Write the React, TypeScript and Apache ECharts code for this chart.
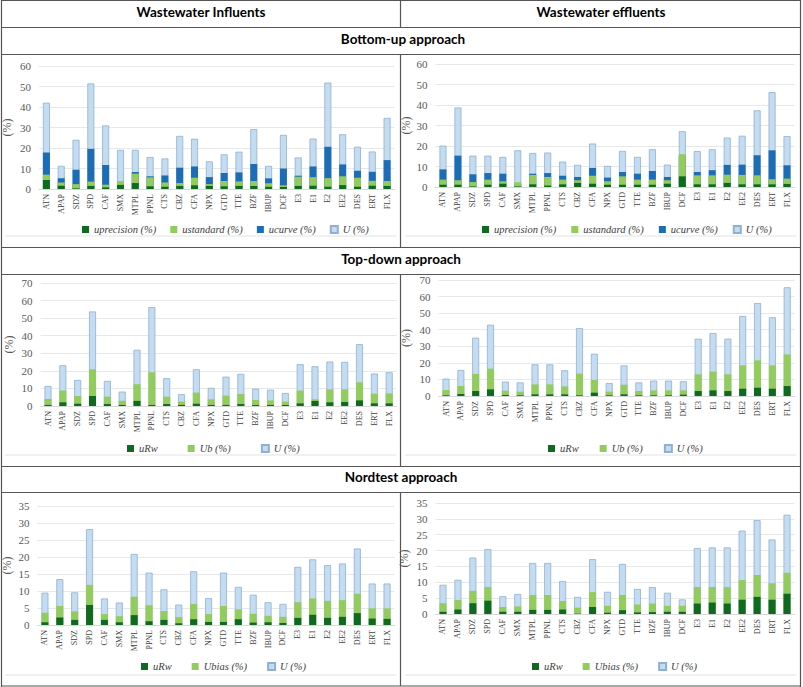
import React, { useEffect, useRef } from 'react';
import * as echarts from 'echarts';

const categories = ['ATN', 'APAP', 'SDZ', 'SPD', 'CAF', 'SMX', 'MTPL', 'PPNL', 'CTS', 'CBZ', 'CFA', 'NPX', 'GTD', 'TTE', 'BZF', 'IBUP', 'DCF', 'E3', 'E1', 'E2', 'EE2', 'DES', 'ERT', 'FLX'];

// Bottom-up approach, influents
const buInfU = [42.1, 11.3, 24.0, 51.5, 31.0, 19.1, 19.1, 15.6, 14.9, 25.9, 24.5, 13.5, 16.9, 18.2, 29.2, 11.3, 26.4, 15.4, 24.6, 51.9, 26.7, 20.6, 18.3, 34.7];
const buInfCurve = [17.8, 5.3, 9.4, 19.6, 11.7, 3.0, 8.3, 6.2, 6.6, 10.4, 11.0, 5.8, 7.8, 8.1, 12.2, 5.2, 10.0, 6.5, 11.0, 20.6, 12.0, 8.9, 8.4, 14.1];
const buInfStandard = [7.0, 3.2, 2.4, 3.6, 2.1, 3.9, 7.5, 5.7, 3.2, 2.9, 5.5, 2.4, 3.9, 3.7, 3.9, 2.8, 1.8, 6.0, 5.8, 5.3, 6.2, 5.5, 4.0, 3.9];
const buInfPrecision = [4.4, 1.6, 0.3, 1.5, 0.8, 2.0, 2.9, 1.3, 1.1, 1.5, 1.8, 1.5, 1.3, 1.5, 1.5, 1.1, 1.0, 1.5, 1.6, 1.1, 1.9, 1.1, 1.6, 1.5];

// Bottom-up approach, effluents
const buEffU = [20.2, 38.8, 15.3, 15.3, 14.7, 17.9, 16.6, 16.8, 12.4, 10.8, 21.2, 10.3, 17.6, 14.7, 18.4, 10.9, 27.2, 17.5, 18.4, 24.1, 25.0, 37.4, 46.3, 24.8];
const buEffCurve = [8.6, 15.3, 6.2, 6.8, 6.5, 1.5, 6.5, 6.8, 5.5, 4.9, 9.3, 4.6, 7.3, 6.5, 7.8, 4.9, 15.0, 7.3, 8.2, 10.8, 10.9, 15.5, 17.9, 10.6];
const buEffStandard = [3.6, 3.3, 2.4, 3.6, 2.8, 2.3, 5.9, 4.9, 3.6, 3.3, 5.5, 2.8, 5.2, 3.6, 3.6, 3.3, 16.0, 5.7, 5.7, 6.0, 5.9, 5.7, 3.8, 4.1];
const buEffPrecision = [1.1, 1.1, 0.3, 1.1, 1.6, 0.3, 1.3, 0.7, 1.3, 2.0, 1.6, 1.1, 1.1, 1.1, 1.1, 1.6, 5.2, 1.3, 1.3, 2.0, 1.3, 1.3, 1.3, 1.5];

// Top-down approach, influents
const tdInfU = [11.4, 23.2, 14.8, 53.8, 14.3, 8.2, 32.0, 56.3, 15.8, 6.7, 20.9, 10.3, 16.7, 18.3, 9.9, 9.3, 7.4, 23.8, 22.6, 25.3, 25.1, 35.2, 18.5, 19.2];
const tdInfUb = [4.0, 8.8, 5.7, 20.9, 5.3, 3.0, 12.4, 19.2, 5.3, 2.5, 7.6, 3.8, 5.9, 6.8, 3.4, 3.2, 2.5, 8.8, 3.8, 9.5, 9.5, 13.5, 7.0, 7.2];
const tdInfURw = [0.6, 2.1, 1.3, 5.7, 1.1, 0.6, 2.9, 0.6, 1.1, 0.6, 1.3, 0.6, 0.6, 1.1, 0.6, 0.6, 0.6, 1.5, 2.9, 2.1, 2.3, 3.2, 1.5, 1.5];

// Top-down approach, effluents
const tdEffU = [10.5, 15.7, 35.2, 43.0, 8.7, 8.2, 19.1, 19.1, 15.5, 41.0, 25.5, 7.8, 18.5, 8.2, 9.3, 9.3, 8.9, 34.6, 38.0, 34.6, 48.3, 56.1, 47.5, 65.6];
const tdEffUb = [3.6, 6.0, 13.3, 16.5, 3.2, 2.6, 7.0, 7.0, 5.8, 13.5, 9.7, 2.6, 6.8, 3.0, 3.4, 3.4, 3.4, 13.1, 14.7, 13.1, 18.5, 21.5, 18.5, 25.1];
const tdEffURw = [0.4, 1.2, 3.0, 4.0, 0.6, 0.4, 1.0, 1.0, 1.0, 0.4, 2.0, 0.4, 1.0, 0.4, 0.4, 0.4, 0.8, 3.0, 3.4, 3.0, 4.4, 5.0, 4.4, 6.0];

// Nordtest approach, influents
const ntInfU = [9.5, 13.5, 9.6, 28.2, 7.8, 6.6, 20.9, 15.4, 10.5, 6.0, 15.8, 7.9, 15.4, 11.2, 8.9, 6.7, 6.2, 17.1, 19.3, 17.6, 18.1, 22.5, 12.2, 12.2];
const ntInfUbias = [3.6, 5.6, 4.0, 11.8, 3.2, 2.6, 8.3, 5.8, 4.1, 2.3, 6.2, 3.2, 5.6, 4.6, 3.3, 2.7, 2.4, 6.7, 7.8, 7.1, 7.3, 9.2, 4.9, 4.9];
const ntInfURw = [0.8, 2.2, 1.5, 5.9, 1.5, 0.8, 2.9, 1.1, 1.5, 0.5, 1.7, 0.9, 0.9, 1.7, 0.7, 0.8, 0.6, 2.1, 3.0, 2.1, 2.4, 3.5, 1.9, 1.8];

// Nordtest approach, effluents
const ntEffU = [9.2, 10.8, 17.8, 20.5, 5.6, 6.3, 16.1, 16.1, 10.4, 5.4, 17.3, 7.0, 15.8, 7.9, 8.5, 6.7, 4.6, 20.8, 21.0, 21.0, 26.3, 29.6, 23.5, 31.3];
const ntEffUbias = [3.4, 4.4, 7.3, 8.5, 2.2, 2.4, 6.0, 6.0, 4.1, 2.0, 6.9, 2.6, 6.0, 3.0, 3.3, 2.6, 2.6, 8.5, 8.5, 8.5, 10.7, 12.3, 9.7, 13.0];
const ntEffURw = [0.7, 1.4, 3.4, 4.2, 0.7, 0.7, 1.3, 1.3, 1.4, 0.1, 2.2, 0.4, 1.2, 0.5, 0.6, 0.7, 0.7, 3.3, 3.6, 3.3, 4.5, 5.4, 4.5, 6.4];

const headers = ['Wastewater Influents', 'Wastewater effluents'];
const approaches = ['Bottom-up approach', 'Top-down approach', 'Nordtest approach'];
const legendBU = ['uprecision (%)', 'ustandard (%)', 'ucurve (%)', 'U (%)'];
const legendTD = ['uRw', 'Ub (%)', 'U (%)'];
const legendNT = ['uRw', 'Ubias (%)', 'U (%)'];

const C_DG = '#0d6a1e';
const C_LG = '#92cc5c';
const C_BL = '#1c6db5';
const C_LB = '#c4dcf1';
const C_LB_BORDER = '#8fb0d0';
const SERIF = '"Liberation Serif", "DejaVu Serif", serif';
const SANS = 'Lato, "Open Sans", sans-serif';

const colorFor: Record<string, string> = {
  'uprecision (%)': C_DG,
  'ustandard (%)': C_LG,
  'ucurve (%)': C_BL,
  'U (%)': C_LB,
  uRw: C_DG,
  'Ub (%)': C_LG,
  'Ubias (%)': C_LG,
};

export default function App() {
  const ref = useRef<HTMLDivElement>(null);
  useEffect(() => {
    document.body.style.margin = '0';
    if (!ref.current) return;
    const chart = echarts.init(ref.current, undefined, { renderer: 'svg' });

    const grids = [
      { left: 36.5, top: 66, width: 358, height: 123 },
      { left: 435.5, top: 64, width: 359, height: 123 },
      { left: 40.6, top: 283, width: 356, height: 123 },
      { left: 438.6, top: 280, width: 356, height: 116 },
      { left: 36.5, top: 506, width: 358, height: 119 },
      { left: 435.5, top: 503, width: 359, height: 111 },
    ];
    const yMax = [60, 60, 70, 70, 35, 35];
    const yInt = [10, 10, 10, 10, 5, 5];
    const nameGaps = [26, 23.5, 26, 27, 24.5, 25.5];

    // back-to-front per chart
    const chartSeries: { name: string; data: number[] }[][] = [
      [
        { name: 'U (%)', data: buInfU },
        { name: 'ucurve (%)', data: buInfCurve },
        { name: 'ustandard (%)', data: buInfStandard },
        { name: 'uprecision (%)', data: buInfPrecision },
      ],
      [
        { name: 'U (%)', data: buEffU },
        { name: 'ucurve (%)', data: buEffCurve },
        { name: 'ustandard (%)', data: buEffStandard },
        { name: 'uprecision (%)', data: buEffPrecision },
      ],
      [
        { name: 'U (%)', data: tdInfU },
        { name: 'Ub (%)', data: tdInfUb },
        { name: 'uRw', data: tdInfURw },
      ],
      [
        { name: 'U (%)', data: tdEffU },
        { name: 'Ub (%)', data: tdEffUb },
        { name: 'uRw', data: tdEffURw },
      ],
      [
        { name: 'U (%)', data: ntInfU },
        { name: 'Ubias (%)', data: ntInfUbias },
        { name: 'uRw', data: ntInfURw },
      ],
      [
        { name: 'U (%)', data: ntEffU },
        { name: 'Ubias (%)', data: ntEffUbias },
        { name: 'uRw', data: ntEffURw },
      ],
    ];

    const series: any[] = [];
    chartSeries.forEach((list, gi) => {
      list.forEach((s) => {
        const isU = s.name === 'U (%)';
        series.push({
          type: 'bar',
          name: s.name,
          data: s.data,
          xAxisIndex: gi,
          yAxisIndex: gi,
          barWidth: 7,
          barGap: '-100%',
          itemStyle: {
            color: colorFor[s.name],
            borderColor: isU ? C_LB_BORDER : colorFor[s.name],
            borderWidth: isU ? 0.8 : 0,
          },
        });
      });
    });

    const legendBase = {
      icon: 'rect',
      itemWidth: 7,
      itemHeight: 7,
      orient: 'horizontal',
      textStyle: { fontFamily: SERIF, fontStyle: 'italic', fontSize: 10.5, color: '#404040' },
    };
    const legends = [
      { ...legendBase, data: legendBU, left: 77, top: 219, itemGap: 14 },
      { ...legendBase, data: legendBU, left: 477, top: 219, itemGap: 15 },
      { ...legendBase, data: legendTD, left: 122, top: 438, itemGap: 30 },
      { ...legendBase, data: legendTD, left: 543, top: 438, itemGap: 21 },
      { ...legendBase, data: legendNT, left: 136, top: 656, itemGap: 20 },
      { ...legendBase, data: legendNT, left: 527, top: 656, itemGap: 20 },
    ];

    const lineColor = '#555555';
    const hLines = [0.5, 27.5, 54.5, 247.5, 274.5, 466.5, 492.5, 686];
    const graphics: any[] = [];
    hLines.forEach((y) => {
      graphics.push({ type: 'line', shape: { x1: 1, y1: y, x2: 801, y2: y }, style: { stroke: lineColor, lineWidth: 1.2 }, silent: true });
    });
    [1.5, 800.5].forEach((x) => {
      graphics.push({ type: 'line', shape: { x1: x, y1: 0, x2: x, y2: 687 }, style: { stroke: lineColor, lineWidth: 1.2 }, silent: true });
    });
    [[0, 27.5], [54.5, 247.5], [274.5, 466.5], [492.5, 686]].forEach(([a, b]) => {
      graphics.push({ type: 'line', shape: { x1: 400.5, y1: a, x2: 400.5, y2: b }, style: { stroke: lineColor, lineWidth: 1.2 }, silent: true });
    });
    // faint chart-image borders
    [236, 455, 675].forEach((y) => {
      graphics.push({ type: 'line', shape: { x1: 5, y1: y, x2: 396, y2: y }, style: { stroke: '#e2e2e2', lineWidth: 1 }, silent: true });
      graphics.push({ type: 'line', shape: { x1: 405, y1: y, x2: 796, y2: y }, style: { stroke: '#e2e2e2', lineWidth: 1 }, silent: true });
    });
    const headStyle = { fill: '#000', fontFamily: SANS, fontWeight: 'bold', fontSize: 13.5, align: 'center', verticalAlign: 'middle' };
    graphics.push({ type: 'text', x: 201, y: 12, style: { ...headStyle, text: headers[0] } });
    graphics.push({ type: 'text', x: 601, y: 12, style: { ...headStyle, text: headers[1] } });
    graphics.push({ type: 'text', x: 403, y: 39, style: { ...headStyle, text: approaches[0] } });
    graphics.push({ type: 'text', x: 401, y: 259, style: { ...headStyle, text: approaches[1] } });
    graphics.push({ type: 'text', x: 401, y: 477, style: { ...headStyle, text: approaches[2] } });

    chart.setOption({
      animation: false,
      backgroundColor: '#ffffff',
      grid: grids.map((g) => ({ ...g, containLabel: false })),
      legend: legends,
      xAxis: grids.map((_, i) => ({
        type: 'category',
        gridIndex: i,
        data: categories,
        axisTick: { show: false },
        axisLine: { lineStyle: { color: '#d9d9d9' } },
        axisLabel: { rotate: 90, interval: 0, fontFamily: SERIF, fontSize: 8, color: '#404040', margin: 5 },
      })),
      yAxis: grids.map((_, i) => ({
        type: 'value',
        gridIndex: i,
        min: 0,
        max: yMax[i],
        interval: yInt[i],
        name: '(%)',
        nameLocation: 'middle',
        nameGap: nameGaps[i],
        nameTextStyle: { fontFamily: SERIF, fontSize: 12, color: '#595959' },
        axisLine: { show: false },
        axisTick: { show: false },
        axisLabel: { fontFamily: SERIF, fontSize: 11, color: '#595959', margin: 8 },
        splitLine: { lineStyle: { color: '#e8e8e8' } },
      })),
      series,
      graphic: graphics,
    });
    return () => chart.dispose();
  }, []);
  return <div ref={ref} style={{ width: 803, height: 687 }} />;
}
